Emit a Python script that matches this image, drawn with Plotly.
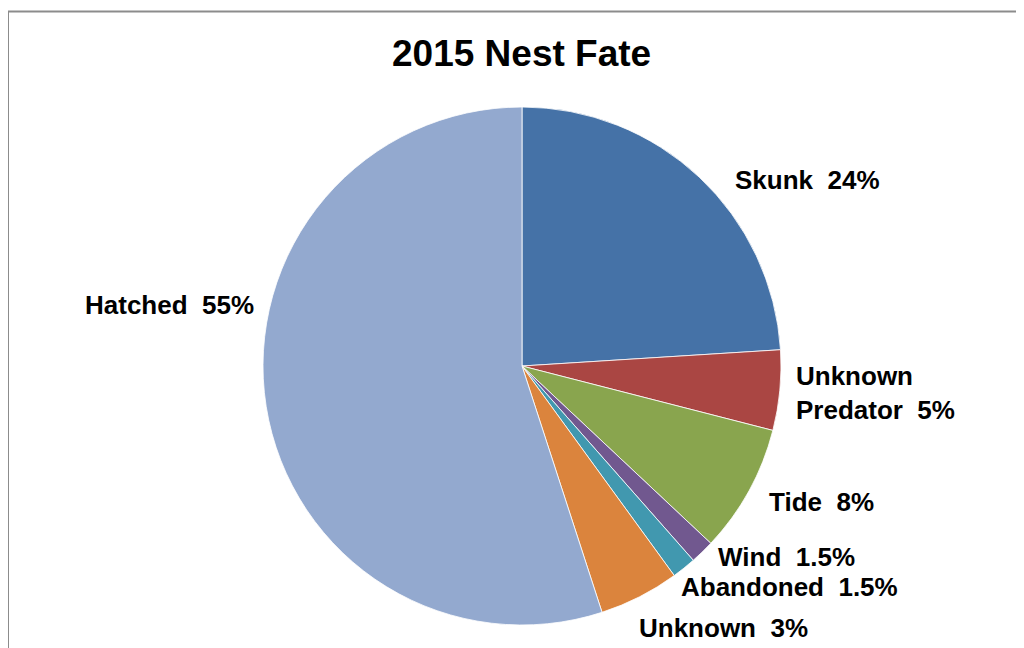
import plotly.graph_objects as go

# Data
categories = ["Skunk", "Unknown Predator", "Tide", "Wind", "Abandoned", "Unknown", "Hatched"]
values = [24, 5, 8, 1.5, 1.5, 5, 55]
label_texts = ["Skunk  24%", "Unknown<br>Predator  5%", "Tide  8%", "Wind  1.5%",
               "Abandoned  1.5%", "Unknown  3%", "Hatched  55%"]

# Styles
colors = ["#4572A7", "#AA4643", "#89A54E", "#71588F", "#4198AF", "#DB843D", "#93A9CF"]
OFF = 8  # page body margin
W, H = 1024 - OFF, 648 - OFF
# label anchor positions in window pixels (x edge, y middle) and anchor side
label_pos = [(733, 180, "left"), (794, 393, "left"), (767, 502, "left"), (716, 557, "left"),
             (679, 587, "left"), (637, 628, "left"), (256, 305, "right")]

cx, cy, r = 522 - OFF, 366 - OFF, 259


def px(x):
    return (x - OFF) / W


def py(y):
    return 1 - (y - OFF) / H


fig = go.Figure(go.Pie(
    labels=categories,
    values=values,
    sort=False,
    direction="clockwise",
    rotation=0,
    marker=dict(colors=colors, line=dict(color="white", width=0.8)),
    textinfo="none",
    hoverinfo="label+percent",
    showlegend=False,
    domain=dict(x=[(cx - r) / W, (cx + r) / W], y=[1 - (cy + r) / H, 1 - (cy - r) / H]),
))

annotations = []
for txt, (lx, ly, side) in zip(label_texts, label_pos):
    annotations.append(dict(
        x=px(lx), y=py(ly), xref="paper", yref="paper",
        text=txt, showarrow=False, xanchor=side, yanchor="middle", align="left",
        font=dict(family="Liberation Sans, Arial, sans-serif", size=26, color="black", weight="bold"),
    ))

annotations.append(dict(
    x=px(521), y=py(53), xref="paper", yref="paper",
    text="<b>2015 Nest Fate</b>", showarrow=False, xanchor="center", yanchor="middle",
    font=dict(family="Liberation Sans, Arial, sans-serif", size=37, color="black"),
))

border = dict(color="#8C8C8C", width=2)
fig.update_layout(
    width=W, height=H,
    margin=dict(l=0, r=0, t=0, b=0),
    paper_bgcolor="white",
    plot_bgcolor="white",
    annotations=annotations,
    shapes=[
        dict(type="line", xref="paper", yref="paper", x0=px(8), x1=1.3, y0=py(11.5), y1=py(11.5), line=border),
        dict(type="line", xref="paper", yref="paper", x0=px(8), x1=px(8), y0=-0.3, y1=py(11.5), line=border),
    ],
)

fig.write_html("out.html")
